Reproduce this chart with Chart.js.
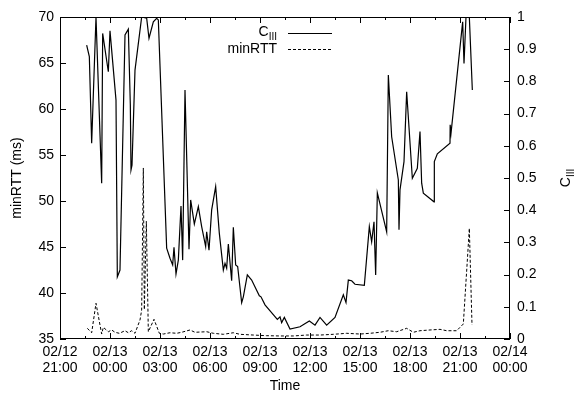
<!DOCTYPE html>
<html>
<head>
<meta charset="utf-8">
<script src="https://cdn.jsdelivr.net/npm/chart.js@4"></script>
<style>
  html, body { margin: 0; padding: 0; background: #fff; }
  canvas { display: block; }
</style>
</head>
<body>
<canvas id="chart" width="580" height="402"></canvas>
<script>
// Tick labels for the time axis (one every 3 hours from 02/12 21:00)
const timeTicks = [
  ['02/12', '21:00'], ['02/13', '00:00'], ['02/13', '03:00'], ['02/13', '06:00'],
  ['02/13', '09:00'], ['02/13', '12:00'], ['02/13', '15:00'], ['02/13', '18:00'],
  ['02/13', '21:00'], ['02/14', '00:00']
];

// C_III series: hours since 02/12 21:00 and value (right axis)
const cTimes = [
  1.60, 1.76, 1.90, 2.16, 2.50, 2.56, 2.90, 3.00, 3.36, 3.44,
  3.60, 3.90, 4.10, 4.22, 4.26, 4.32, 4.50, 4.90, 5.20, 5.34,
  5.60, 5.80, 5.90, 6.40, 6.60, 6.76, 6.84, 6.96, 7.10, 7.26,
  7.36, 7.50, 7.74, 7.84, 8.06, 8.30, 8.50, 8.74, 8.80, 8.94,
  9.10, 9.34, 9.56, 9.80, 9.90, 10.00, 10.10, 10.30, 10.40, 10.54,
  10.66, 10.90, 11.00, 11.24, 11.50, 11.96, 12.06, 12.30, 13.04, 13.20,
  13.30, 13.46, 13.80, 14.40, 14.96, 15.30, 15.60, 16.00, 16.50, 17.00,
  17.16, 17.30, 17.50, 17.70, 18.26, 18.56, 18.70, 18.84, 18.94, 19.04,
  19.60, 19.70, 19.90, 20.30, 20.34, 20.40, 20.64, 20.80, 21.14, 21.44,
  21.60, 21.70, 21.80, 22.44, 22.46, 22.64, 23.40, 23.41, 23.46, 24.16,
  24.24, 24.36, 24.56, 24.74
];
const cValues = [
  0.913, 0.877, 0.608, 1.000, 0.484, 0.949, 0.830, 0.957, 0.742, 0.193,
  0.214, 0.944, 0.962, 0.727, 0.525, 0.540, 0.835, 1.000, 0.996, 0.934,
  0.985, 0.996, 0.991, 0.282, 0.251, 0.230, 0.285, 0.202, 0.245, 0.413,
  0.245, 0.773, 0.279, 0.432, 0.357, 0.411, 0.349, 0.287, 0.333, 0.276,
  0.401, 0.473, 0.328, 0.214, 0.235, 0.220, 0.295, 0.181, 0.347, 0.230,
  0.225, 0.113, 0.131, 0.199, 0.183, 0.134, 0.131, 0.106, 0.061, 0.069,
  0.051, 0.067, 0.031, 0.038, 0.056, 0.043, 0.067, 0.043, 0.067, 0.137,
  0.113, 0.183, 0.181, 0.170, 0.167, 0.349, 0.302, 0.364, 0.199, 0.454,
  0.333, 0.820, 0.628, 0.494, 0.339, 0.463, 0.551, 0.768, 0.499, 0.530,
  0.644, 0.484, 0.453, 0.426, 0.551, 0.575, 0.608, 0.665, 0.639, 0.985,
  0.856, 1.000, 1.000, 0.773
];

// minRTT series: hours since 02/12 21:00 and value in ms (left axis)
const rttTimes = [
  1.64, 1.90, 2.16, 2.50, 2.60, 2.90, 3.10, 3.30, 3.56, 3.90,
  4.10, 4.30, 4.50, 4.80, 4.90, 5.00, 5.06, 5.18, 5.30, 5.64,
  5.96, 6.20, 6.60, 7.00, 7.30, 7.80, 8.10, 8.80, 9.20, 9.80,
  10.40, 10.80, 11.60, 12.40, 13.20, 14.00, 14.80, 15.60, 16.40, 17.20,
  18.00, 18.60, 19.20, 19.70, 20.20, 20.80, 21.20, 21.60, 22.20, 22.80,
  23.20, 23.80, 24.20, 24.56, 24.72
];
const rttValues = [
  36.16, 35.68, 38.88, 35.54, 36.27, 35.79, 35.98, 35.73, 35.62, 35.90,
  35.68, 35.90, 35.62, 37.07, 38.15, 53.59, 38.20, 47.80, 35.79, 37.14,
  35.62, 35.54, 35.68, 35.62, 35.73, 35.98, 35.73, 35.79, 35.62, 35.51,
  35.68, 35.51, 35.43, 35.36, 35.33, 35.33, 35.43, 35.43, 35.51, 35.62,
  35.54, 35.62, 35.73, 35.90, 35.79, 36.16, 35.73, 35.90, 35.98, 36.05,
  35.90, 35.90, 36.63, 47.03, 36.52
];

const FONT = "'Liberation Sans', Arial, Helvetica, sans-serif";

function toPoints(xs, ys) {
  return xs.map((x, i) => ({ x, y: ys[i] }));
}

// Frame, inward tick marks, legend and the subscripted right title
const decorations = {
  id: 'decorations',
  afterDraw(chart) {
    const { ctx, chartArea: a, scales } = chart;
    ctx.save();
    ctx.strokeStyle = '#000';
    ctx.lineWidth = 1;
    ctx.strokeRect(a.left + 0.5, a.top + 0.5, a.right - a.left - 1, a.bottom - a.top - 1);

    ctx.beginPath();
    // x ticks, major every 3h, minor at the half step, bottom and top
    for (let v = 0; v <= 27; v += 1.5) {
      const px = Math.round(scales.x.getPixelForValue(v)) + 0.5;
      const len = v % 3 === 0 ? 6 : 3;
      ctx.moveTo(px, a.bottom); ctx.lineTo(px, a.bottom - len);
      ctx.moveTo(px, a.top); ctx.lineTo(px, a.top + len);
    }
    scales.y.ticks.forEach(t => {
      const py = Math.round(scales.y.getPixelForValue(t.value)) + 0.5;
      ctx.moveTo(a.left, py); ctx.lineTo(a.left + 6, py);
    });
    scales.y1.ticks.forEach(t => {
      const py = Math.round(scales.y1.getPixelForValue(t.value)) + 0.5;
      ctx.moveTo(a.right, py); ctx.lineTo(a.right - 6, py);
    });
    ctx.stroke();

    // legend
    ctx.fillStyle = '#000';
    ctx.textBaseline = 'middle';
    ctx.textAlign = 'right';
    ctx.font = '10px ' + FONT;
    ctx.fillText('III', 277, 37);
    const wSub = ctx.measureText('III').width;
    ctx.font = '14px ' + FONT;
    ctx.fillText('C', 277 - wSub, 32);
    ctx.fillText('minRTT', 277, 49);

    ctx.lineWidth = 1.2;
    ctx.beginPath();
    ctx.moveTo(288, 33.5); ctx.lineTo(332, 33.5);
    ctx.stroke();
    ctx.lineWidth = 1;
    ctx.setLineDash([3, 2]);
    ctx.beginPath();
    ctx.moveTo(288, 49.5); ctx.lineTo(332, 49.5);
    ctx.stroke();
    ctx.setLineDash([]);

    // right axis title C_III, rotated
    ctx.translate(566, (a.top + a.bottom) / 2);
    ctx.rotate(-Math.PI / 2);
    ctx.textAlign = 'left';
    ctx.font = '14px ' + FONT;
    const wC = ctx.measureText('C').width;
    ctx.font = '10px ' + FONT;
    const wS = ctx.measureText('III').width;
    const start = -(wC + wS) / 2;
    ctx.font = '14px ' + FONT;
    ctx.fillText('C', start, 0);
    ctx.font = '10px ' + FONT;
    ctx.fillText('III', start + wC, 5);
    ctx.restore();
  }
};

Chart.defaults.color = '#000';
Chart.defaults.font.family = FONT;
Chart.defaults.font.size = 14;

new Chart(document.getElementById('chart'), {
  type: 'line',
  data: {
    datasets: [
      {
        label: 'C_III',
        data: toPoints(cTimes, cValues),
        yAxisID: 'y1',
        borderColor: '#000',
        borderWidth: 1.2,
        pointRadius: 0,
        tension: 0,
        fill: false
      },
      {
        label: 'minRTT',
        data: toPoints(rttTimes, rttValues),
        yAxisID: 'y',
        borderColor: '#000',
        borderWidth: 1,
        borderDash: [3, 2],
        pointRadius: 0,
        tension: 0,
        fill: false
      }
    ]
  },
  options: {
    responsive: false,
    animation: false,
    devicePixelRatio: 1,
    layout: { padding: { top: 17, left: 0, right: 0, bottom: 0 } },
    plugins: {
      legend: { display: false },
      tooltip: { enabled: false }
    },
    scales: {
      x: {
        type: 'linear',
        min: 0,
        max: 27,
        grid: { display: false, drawTicks: false },
        border: { display: false },
        ticks: {
          stepSize: 3,
          autoSkip: false,
          maxRotation: 0,
          padding: 5,
          font: { size: 14, lineHeight: 1.15 },
          callback: v => timeTicks[Math.round(v / 3)]
        },
        title: { display: true, text: 'Time', font: { size: 14 }, padding: { top: 0, bottom: 7 } },
        afterFit: s => { s.height = 63; }
      },
      y: {
        position: 'left',
        min: 35,
        max: 70,
        grid: { display: false, drawTicks: false },
        border: { display: false },
        ticks: { stepSize: 5, padding: 6 },
        title: { display: true, text: 'minRTT (ms)', font: { size: 14 }, padding: { top: 9, bottom: 0 } },
        afterFit: s => { s.width = 60; }
      },
      y1: {
        position: 'right',
        min: 0,
        max: 1,
        grid: { display: false, drawTicks: false },
        border: { display: false },
        ticks: {
          stepSize: 0.1,
          padding: 7,
          callback: v => String(Number(v.toFixed(1)))
        },
        afterFit: s => { s.width = 70; }
      }
    }
  },
  plugins: [decorations]
});
</script>
</body>
</html>
